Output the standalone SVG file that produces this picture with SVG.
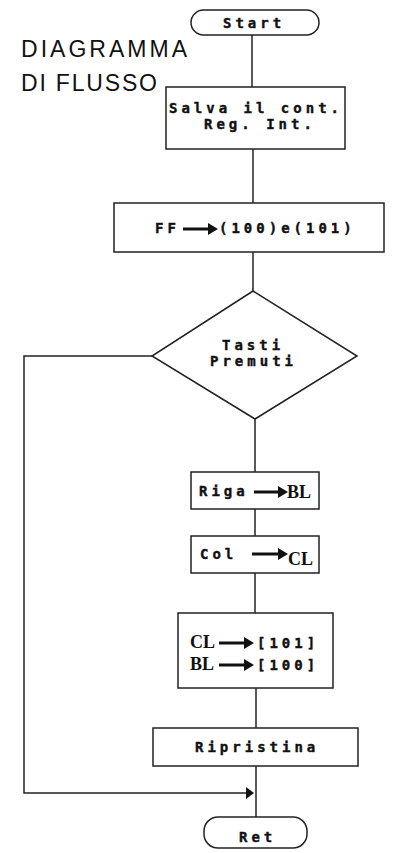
<svg xmlns="http://www.w3.org/2000/svg" width="394" height="853" viewBox="0 0 394 853">
  <style>
    .shape { fill: #fff; stroke: #222; stroke-width: 1.5; }
    .wire { fill: none; stroke: #222; stroke-width: 1.5; }
    .mono { font-family: "DejaVu Sans Mono", "Liberation Mono", monospace; font-weight: bold; font-size: 14px; letter-spacing: 4px; fill: #111; stroke: #111; stroke-width: 0.4; }
    .serif { font-family: "Liberation Serif", "Times New Roman", serif; font-weight: bold; font-size: 18px; fill: #111; }
    .title { font-family: "Liberation Sans", Arial, sans-serif; font-size: 23px; fill: #111; }
    .bar { stroke: #111; stroke-width: 3; }
    .head { fill: #111; }
  </style>

  <!-- title -->
  <text class="title" x="21" y="57" textLength="166" lengthAdjust="spacing">DIAGRAMMA</text>
  <text class="title" x="21" y="91" textLength="136" lengthAdjust="spacing">DI FLUSSO</text>

  <!-- connectors -->
  <g id="connectors">
    <line class="wire" x1="252" y1="35" x2="252" y2="87"/>
    <line class="wire" x1="253" y1="149" x2="253" y2="203"/>
    <line class="wire" x1="253" y1="252" x2="253" y2="291"/>
    <line class="wire" x1="255" y1="419" x2="255" y2="472"/>
    <line class="wire" x1="255" y1="509" x2="255" y2="536"/>
    <line class="wire" x1="255" y1="573" x2="255" y2="613"/>
    <line class="wire" x1="256" y1="688" x2="256" y2="728"/>
    <line class="wire" x1="256" y1="766" x2="256" y2="817"/>
    <polyline class="wire" points="152,356 24,356 24,793 247,793"/>
    <polygon class="head" points="246,787 254,793 246,799"/>
  </g>

  <g id="start">
    <rect class="shape" x="191" y="10" width="128" height="25" rx="12.5"/>
    <text class="mono" x="223" y="28">Start</text>
  </g>

  <g id="salva">
    <rect class="shape" x="166" y="87" width="179" height="62"/>
    <text class="mono" x="169" y="113">Salva il cont.</text>
    <text class="mono" x="204" y="129">Reg. Int.</text>
  </g>

  <g id="ff">
    <rect class="shape" x="114" y="203" width="270" height="49"/>
    <text class="mono" x="155" y="233">FF</text>
    <line class="bar" x1="183" y1="229" x2="210" y2="229"/>
    <polygon class="head" points="208,223 218,229 208,235"/>
    <text class="mono" x="219" y="233">(100)e(101)</text>
  </g>

  <g id="tasti">
    <polygon class="shape" points="253,291 357,356 255,419 152,356"/>
    <text class="mono" x="222" y="350">Tasti</text>
    <text class="mono" x="210" y="366">Premuti</text>
  </g>

  <g id="riga">
    <rect class="shape" x="191" y="472" width="128" height="37"/>
    <text class="mono" x="199" y="496">Riga</text>
    <line class="bar" x1="254" y1="492" x2="280" y2="492"/>
    <polygon class="head" points="278,486 288,492 278,498"/>
    <text class="serif" x="287" y="498">BL</text>
  </g>

  <g id="col">
    <rect class="shape" x="191" y="536" width="128" height="37"/>
    <text class="mono" x="200" y="559">Col</text>
    <line class="bar" x1="252" y1="554" x2="280" y2="554"/>
    <polygon class="head" points="278,548 288,554 278,560"/>
    <text class="serif" x="288" y="565">CL</text>
  </g>

  <g id="store">
    <rect class="shape" x="178" y="613" width="155" height="75"/>
    <text class="serif" x="190" y="648">CL</text>
    <line class="bar" x1="219" y1="643" x2="246" y2="643"/>
    <polygon class="head" points="244,637 254,643 244,649"/>
    <text class="mono" x="257" y="648">[101]</text>
    <text class="serif" x="190" y="670">BL</text>
    <line class="bar" x1="219" y1="665" x2="246" y2="665"/>
    <polygon class="head" points="244,659 254,665 244,671"/>
    <text class="mono" x="257" y="670">[100]</text>
  </g>

  <g id="ripristina">
    <rect class="shape" x="153" y="728" width="205" height="38"/>
    <text class="mono" x="195" y="752">Ripristina</text>
  </g>

  <g id="ret">
    <rect class="shape" x="204" y="817" width="103" height="31" rx="14"/>
    <text class="mono" x="239" y="842">Ret</text>
  </g>
</svg>
